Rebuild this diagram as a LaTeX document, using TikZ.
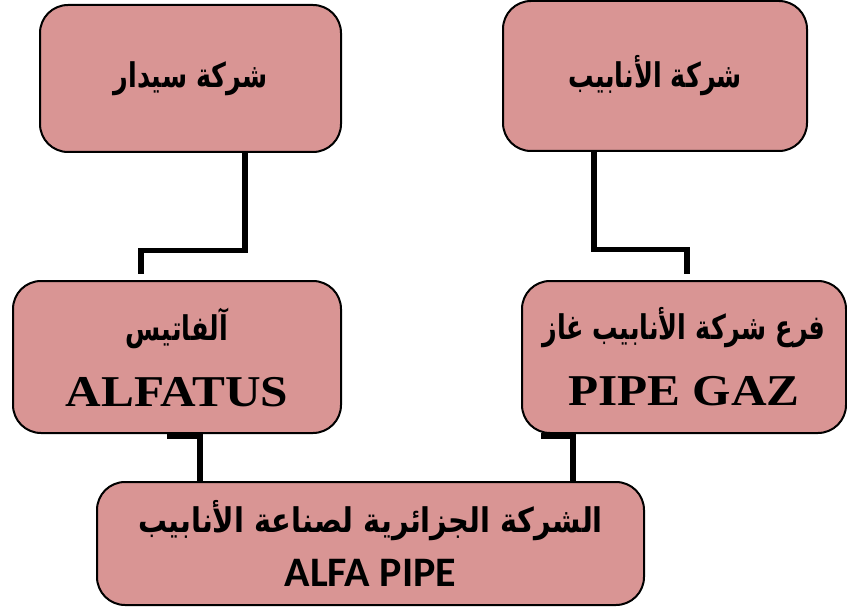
\documentclass[tikz,border=0pt]{standalone}
\usepackage{fontspec}
\setmainfont{Liberation Serif}
\newfontfamily\arabicfont[Script=Arabic,FakeStretch=0.75]{DejaVu Sans}
\newfontfamily\arabicwide[Script=Arabic,FakeStretch=0.85]{DejaVu Sans}
\newfontfamily\serifwide[FakeStretch=1.12]{Liberation Serif}
\newfontfamily\calibrifont{Carlito}
\TeXXeTstate=1
\usetikzlibrary{positioning,backgrounds}
\definecolor{boxpink}{RGB}{217,149,148}

\begin{document}
\begin{tikzpicture}[x=1pt,y=-1pt,
    box node/.style={draw,line width=2pt,fill=boxpink,rounded corners=28pt,
                     align=center,inner sep=0pt},
    ar/.style={font=\arabicfont\bfseries\fontsize{34}{66}\selectfont},
    link/.style={line width=5.5pt}]

  \useasboundingbox (0,0) rectangle (847,607);

  \node[box node,ar,minimum width=301pt,minimum height=147pt] (sidar) at (190.5,78.5)
    {\raisebox{-5pt}{\beginR شركة سيدار\endR}};
  \node[box node,ar,minimum width=304pt,minimum height=150pt] (pipes) at (655,76)
    {\raisebox{-2pt}{\beginR شركة الأنابيب\endR}};
  \node[box node,ar,minimum width=328pt,minimum height=152pt] (alfatus) at (177,357)
    {\beginR آلفاتيس\endR\\
     {\serifwide\bfseries\fontsize{44}{66}\selectfont ALFATUS}};
  \node[box node,ar,minimum width=324pt,minimum height=152pt] (pipegaz) at (684,357)
    {\beginR فرع شركة الأنابيب غاز\endR\\
     {\serifwide\bfseries\fontsize{44}{66}\selectfont PIPE GAZ}};
  \node[box node,minimum width=547pt,minimum height=123pt,
        font=\arabicwide\bfseries\fontsize{34}{54}\selectfont] (alfapipe) at (370.5,543.5)
    {\beginR الشركة الجزائرية لصناعة الأنابيب\endR\\
     {\calibrifont\bfseries\fontsize{42}{54}\selectfont ALFA PIPE}};

  \begin{pgfonlayer}{background}
    \draw[link] ([xshift=54.5pt]sidar.south) -- ++(0,97.5)
      -| ([xshift=-36pt,yshift=6pt]alfatus.north);
    \draw[link] ([xshift=-61pt]pipes.south) -- ++(0,97.5)
      -| ([xshift=3pt,yshift=6pt]pipegaz.north);
    \draw[link] ([xshift=-10pt,yshift=-2pt]alfatus.south)
      -| ([xshift=23pt]alfatus.south |- alfapipe.north);
    \draw[link] ([xshift=-143pt,yshift=-2pt]pipegaz.south)
      -| ([xshift=-111pt]pipegaz.south |- alfapipe.north);
  \end{pgfonlayer}
\end{tikzpicture}
\end{document}
